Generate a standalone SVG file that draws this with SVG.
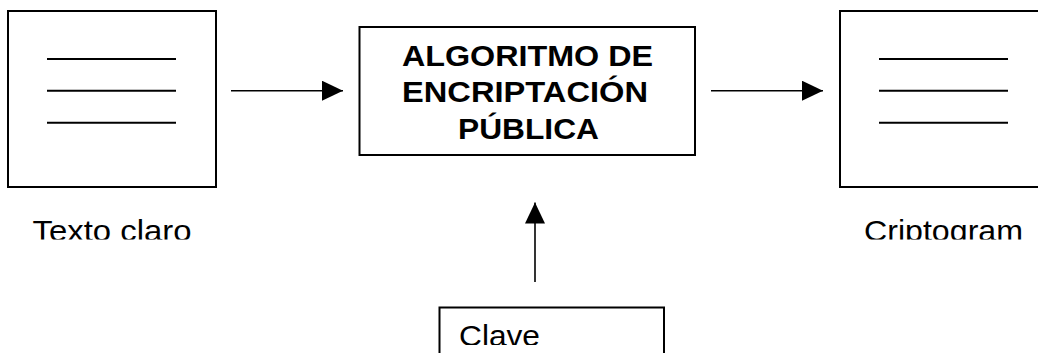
<svg xmlns="http://www.w3.org/2000/svg" width="1038" height="353" viewBox="0 0 1038 353">
<style>
.box{fill:#fff;stroke:#000;stroke-width:2}
.ln{stroke:#000;stroke-width:2;fill:none}
.con{stroke:#000;stroke-width:1.6;fill:none}
.bt{font-family:"Liberation Sans",Arial,sans-serif;font-weight:bold;font-size:29px;fill:#000}
.rt{font-family:"Liberation Sans",Arial,sans-serif;font-size:29px;fill:#000}
</style>
<defs>
<marker id="ah" markerWidth="21" markerHeight="20" refX="21" refY="10" orient="auto" markerUnits="userSpaceOnUse">
<path d="M0,0 L21,10 L0,20 Z" fill="#000"/>
</marker>
<clipPath id="lc"><rect x="0" y="200" width="1038" height="39.5"/></clipPath>
<clipPath id="cc"><rect x="440" y="308" width="223" height="37"/></clipPath>
</defs>
<rect width="1038" height="353" fill="#fff"/>
<g id="texto-claro">
<rect class="box" x="8" y="11" width="208" height="176"/>
<line class="ln" x1="47" y1="59" x2="176" y2="59"/>
<line class="ln" x1="47" y1="90.7" x2="176" y2="90.7"/>
<line class="ln" x1="47" y1="122.7" x2="176" y2="122.7"/>
<text class="rt" x="32.5" y="241" textLength="159" lengthAdjust="spacingAndGlyphs" clip-path="url(#lc)">Texto claro</text>
</g>
<g id="algoritmo">
<rect class="box" x="359.5" y="27" width="335.5" height="128"/>
<text class="bt" x="402" y="65.7" textLength="251" lengthAdjust="spacingAndGlyphs">ALGORITMO DE</text>
<text class="bt" x="402" y="102.3" textLength="246" lengthAdjust="spacingAndGlyphs">ENCRIPTACIÓN</text>
<text class="bt" x="458" y="139.3" textLength="141" lengthAdjust="spacingAndGlyphs">PÚBLICA</text>
</g>
<g id="criptograma">
<rect class="box" x="840" y="11" width="210" height="176"/>
<line class="ln" x1="879" y1="59" x2="1008" y2="59"/>
<line class="ln" x1="879" y1="90.7" x2="1008" y2="90.7"/>
<line class="ln" x1="879" y1="122.7" x2="1008" y2="122.7"/>
<text class="rt" x="864" y="241" textLength="159" lengthAdjust="spacingAndGlyphs" clip-path="url(#lc)">Criptogram</text>
</g>
<g id="clave">
<rect class="box" x="439.5" y="307.5" width="224.5" height="60"/>
<text class="rt" x="459" y="346" textLength="81" lengthAdjust="spacingAndGlyphs" clip-path="url(#cc)">Clave</text>
</g>
<g id="connectors">
<line class="con" x1="231" y1="90.7" x2="343" y2="90.7" marker-end="url(#ah)"/>
<line class="con" x1="711" y1="90.7" x2="823" y2="90.7" marker-end="url(#ah)"/>
<line class="con" x1="535" y1="282" x2="535" y2="202.5" marker-end="url(#ah)"/>
</g>
</svg>
